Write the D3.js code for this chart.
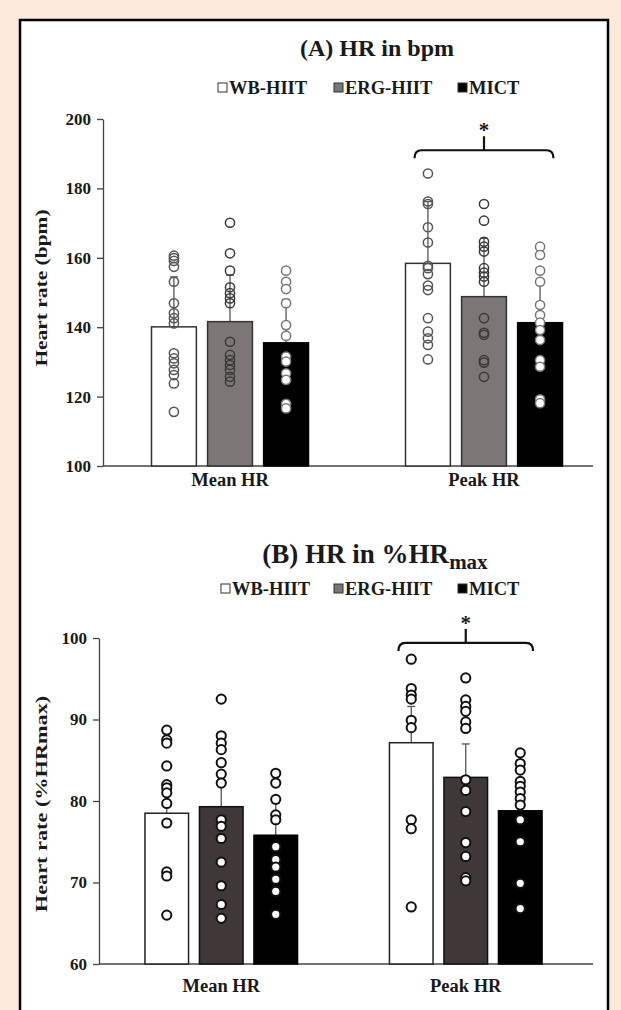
<!DOCTYPE html>
<html><head><meta charset="utf-8">
<script src="https://cdn.jsdelivr.net/npm/d3@7"></script>
<style>
html,body{margin:0;padding:0;background:#fbe9dc;}
svg{display:block;}
text{font-family:"Liberation Serif","Times New Roman",serif;font-weight:bold;fill:#1a1a1a;}
</style></head><body>
<svg id="c" width="621" height="1010"></svg>
<script>
const categories = ["Mean HR", "Peak HR"];
const series = ["WB-HIIT", "ERG-HIIT", "MICT"];

// Panel A: HR in bpm
const bpmTicks = [100, 120, 140, 160, 180, 200];
const bpmBars = [[140.1, 141.6, 135.5], [158.4, 148.8, 141.3]];
const bpmErrTop = [[154.5, 155.0, 148.0], [176.2, 165.6, 153.1]];
const bpmMeanWB = [160.6, 159.9, 159.1, 157.4, 153.1, 146.9, 144.0, 142.6, 141.1, 132.5, 131.0, 129.6, 127.7, 126.2, 123.8, 115.6];
const bpmMeanERG = [170.1, 161.3, 156.3, 151.5, 149.8, 148.3, 146.9, 135.8, 132.0, 130.5, 129.1, 127.7, 125.7, 124.3];
const bpmMeanMICT = [156.3, 153.1, 151.0, 146.9, 140.6, 137.5, 131.5, 130.1, 126.7, 124.8, 117.9, 116.6];
const bpmPeakWB = [184.3, 176.2, 175.5, 168.8, 164.4, 157.7, 157.0, 155.3, 152.0, 150.7, 142.6, 138.7, 136.8, 134.9, 130.7];
const bpmPeakERG = [175.5, 170.7, 164.6, 163.2, 161.8, 157.0, 155.7, 154.6, 153.1, 142.6, 138.4, 137.8, 130.5, 129.8, 125.7];
const bpmPeakMICT = [163.2, 160.8, 156.3, 153.1, 146.4, 143.5, 141.3, 139.2, 136.3, 130.5, 128.6, 119.2, 118.1];
const bpmSig = 191;

// Panel B: HR in %HRmax
const pctTicks = [60, 70, 80, 90, 100];
const pctBars = [[78.5, 79.3, 75.8], [87.15, 82.9, 78.8]];
const pctErrTop = [[82.2, 82.6, 79.7], [91.6, 87.0, 82.5]];
const pctMeanWB = [88.7, 87.5, 87.1, 84.3, 82.0, 81.6, 81.0, 79.7, 77.3, 71.3, 70.8, 66.0];
const pctMeanERG = [92.5, 88.0, 87.1, 86.3, 84.7, 83.3, 82.2, 77.7, 76.9, 75.4, 72.5, 69.6, 67.3, 65.6];
const pctMeanMICT = [83.4, 82.2, 80.2, 78.3, 77.7, 74.4, 72.8, 71.9, 70.4, 68.9, 66.1];
const pctPeakWB = [97.4, 93.8, 93.0, 92.5, 89.9, 89.0, 77.7, 76.6, 67.0];
const pctPeakERG = [95.1, 92.4, 91.6, 91.0, 89.7, 88.9, 82.6, 81.3, 78.7, 74.9, 73.2, 70.6, 70.2];
const pctPeakMICT = [85.9, 84.6, 83.8, 82.4, 81.8, 81.1, 80.3, 79.5, 77.7, 75.0, 69.9, 66.8];
const pctSig = 99.4;

const svg = d3.select("#c");
svg.append("rect").attr("x", 20).attr("y", 20).attr("width", 588).attr("height", 1000)
  .attr("fill", "#fff").attr("stroke", "#000").attr("stroke-width", 2.5);

function drawPanel(o) {
  const g = svg.append("g");
  const y = d3.scaleLinear().domain([o.ticks[0], o.ticks[o.ticks.length - 1]]).range(o.yRange);
  const x0 = d3.scaleBand().domain(categories).range(o.xRange);
  const x1 = d3.scaleBand().domain(series).range([0, o.inner]).paddingInner(0.2);
  const bx = (ci, s) => x0(categories[ci]) + x0.bandwidth() / 2 - o.inner / 2 + x1(s);

  // y axis
  const ax = g.append("g").attr("transform", `translate(${o.xRange[0]},0)`)
    .call(d3.axisLeft(y).tickValues(o.ticks).tickSize(6).tickSizeOuter(0).tickPadding(6));
  ax.selectAll("path,line").attr("stroke", "#444").attr("stroke-width", 1.3);
  ax.selectAll("text").attr("font-size", 17).attr("fill", "#1a1a1a")
    .style("font-family", '"Liberation Serif",serif').style("font-weight", "bold");
  // x axis line
  g.append("line").attr("x1", o.xRange[0]).attr("x2", o.xEnd)
    .attr("y1", y(o.ticks[0])).attr("y2", y(o.ticks[0])).attr("stroke", "#444").attr("stroke-width", 1.3);
  // category labels
  g.selectAll(".cat").data(categories).join("text")
    .attr("x", d => x0(d) + x0.bandwidth() / 2).attr("y", o.catY)
    .attr("text-anchor", "middle").attr("font-size", 18.5).text(d => d);

  // bars
  categories.forEach((c, ci) => {
    series.forEach((s, si) => {
      const xL = bx(ci, s), w = x1.bandwidth(), cx = xL + w / 2;
      const v = o.bars[ci][si], e = o.err[ci][si];
      g.append("line").attr("x1", cx).attr("x2", cx).attr("y1", y(v)).attr("y2", y(e))
        .attr("stroke", "#555").attr("stroke-width", 1.3);
      g.append("line").attr("x1", cx - 4).attr("x2", cx + 4).attr("y1", y(e)).attr("y2", y(e))
        .attr("stroke", "#555").attr("stroke-width", 1.3);
      g.append("rect").attr("x", xL).attr("y", y(v)).attr("width", w).attr("height", y(o.ticks[0]) - y(v))
        .attr("fill", o.barFill[si]).attr("stroke", o.barStroke[si]).attr("stroke-width", 1.5);
    });
  });
  // points
  categories.forEach((c, ci) => {
    series.forEach((s, si) => {
      const cx = bx(ci, s) + x1.bandwidth() / 2;
      g.selectAll(null).data(o.pts[ci][si]).join("circle")
        .attr("cx", cx).attr("cy", d => y(d)).attr("r", 4.6)
        .attr("fill", o.ptFill[si]).attr("stroke", o.ptStroke[si]).attr("stroke-width", o.ptSW);
    });
  });

  // significance bracket
  const bl = bx(1, series[0]) + 9, br = bx(1, series[2]) + x1.bandwidth() - 9, bc = (bl + br) / 2;
  const by = y(o.sig);
  g.append("path").attr("d", `M${bl},${by + 8} Q${bl},${by} ${bl + 7},${by} L${br - 7},${by} Q${br},${by} ${br},${by + 8} M${bc},${by} L${bc},${by - 14}`)
    .attr("fill", "none").attr("stroke", "#111").attr("stroke-width", 2.2);
  g.append("text").attr("x", bc).attr("y", by - 13).attr("text-anchor", "middle").attr("font-size", 21).text("*");

  // y title (stretched along its length like the reference)
  g.append("text").attr("transform", `translate(${o.yTitleX},${o.yTitleY}) scale(1,${o.yTitleStretch}) rotate(-90)`)
    .attr("text-anchor", "middle").attr("font-size", 16.5).text(o.yTitle);

  // title
  const t = g.append("text").attr("x", o.titleX).attr("y", o.titleY).attr("text-anchor", "middle").attr("font-size", o.titleSize);
  t.append("tspan").text(o.title);
  if (o.sub) t.append("tspan").attr("font-size", o.subSize).attr("dy", 6).text(o.sub);

  // legend
  const legendX = o.legendX;
  series.forEach((s, si) => {
    g.append("rect").attr("x", legendX[si]).attr("y", o.legendY - 11).attr("width", 9).attr("height", 9)
      .attr("fill", o.legFill[si]).attr("stroke", "#333").attr("stroke-width", 1);
    g.append("text").attr("x", legendX[si] + 11).attr("y", o.legendY).attr("font-size", 18.5).text(s);
  });
}

drawPanel({
  ticks: bpmTicks, yRange: [466, 119], xRange: [103, 611], xEnd: 593, inner: 157,
  bars: bpmBars, err: bpmErrTop,
  pts: [[bpmMeanWB, bpmMeanERG, bpmMeanMICT], [bpmPeakWB, bpmPeakERG, bpmPeakMICT]],
  sig: bpmSig,
  barFill: ["#fff", "#7d7676", "#000"], barStroke: ["#333", "#333", "#000"],
  ptFill: ["none", "none", "#fff"], ptStroke: ["#555", "#3a3a3a", "#777"], ptSW: 1.5,
  catY: 486, yTitle: "Heart rate (bpm)", yTitleX: 47, yTitleY: 288, yTitleStretch: 1.3,
  title: "(A) HR in bpm", sub: null, titleX: 377, titleY: 56, titleSize: 24,
  legendX: [218, 334, 458], legendY: 94, legFill: ["#fff", "#777", "#000"]
});

drawPanel({
  ticks: pctTicks, yRange: [964, 638], xRange: [99, 588], xEnd: 593, inner: 152.6,
  bars: pctBars, err: pctErrTop,
  pts: [[pctMeanWB, pctMeanERG, pctMeanMICT], [pctPeakWB, pctPeakERG, pctPeakMICT]],
  sig: pctSig,
  barFill: ["#fff", "#403838", "#000"], barStroke: ["#222", "#111", "#000"],
  ptFill: ["#fff", "#fff", "#fff"], ptStroke: ["#111", "#111", "#111"], ptSW: 2,
  catY: 992, yTitle: "Heart rate (%HRmax)", yTitleX: 47, yTitleY: 804, yTitleStretch: 1.35,
  title: "(B) HR in %HR", sub: "max", titleX: 375, titleY: 563, titleSize: 27, subSize: 21,
  legendX: [221, 334, 458], legendY: 595, legFill: ["#fff", "#777", "#000"]
});
</script>
</body></html>
